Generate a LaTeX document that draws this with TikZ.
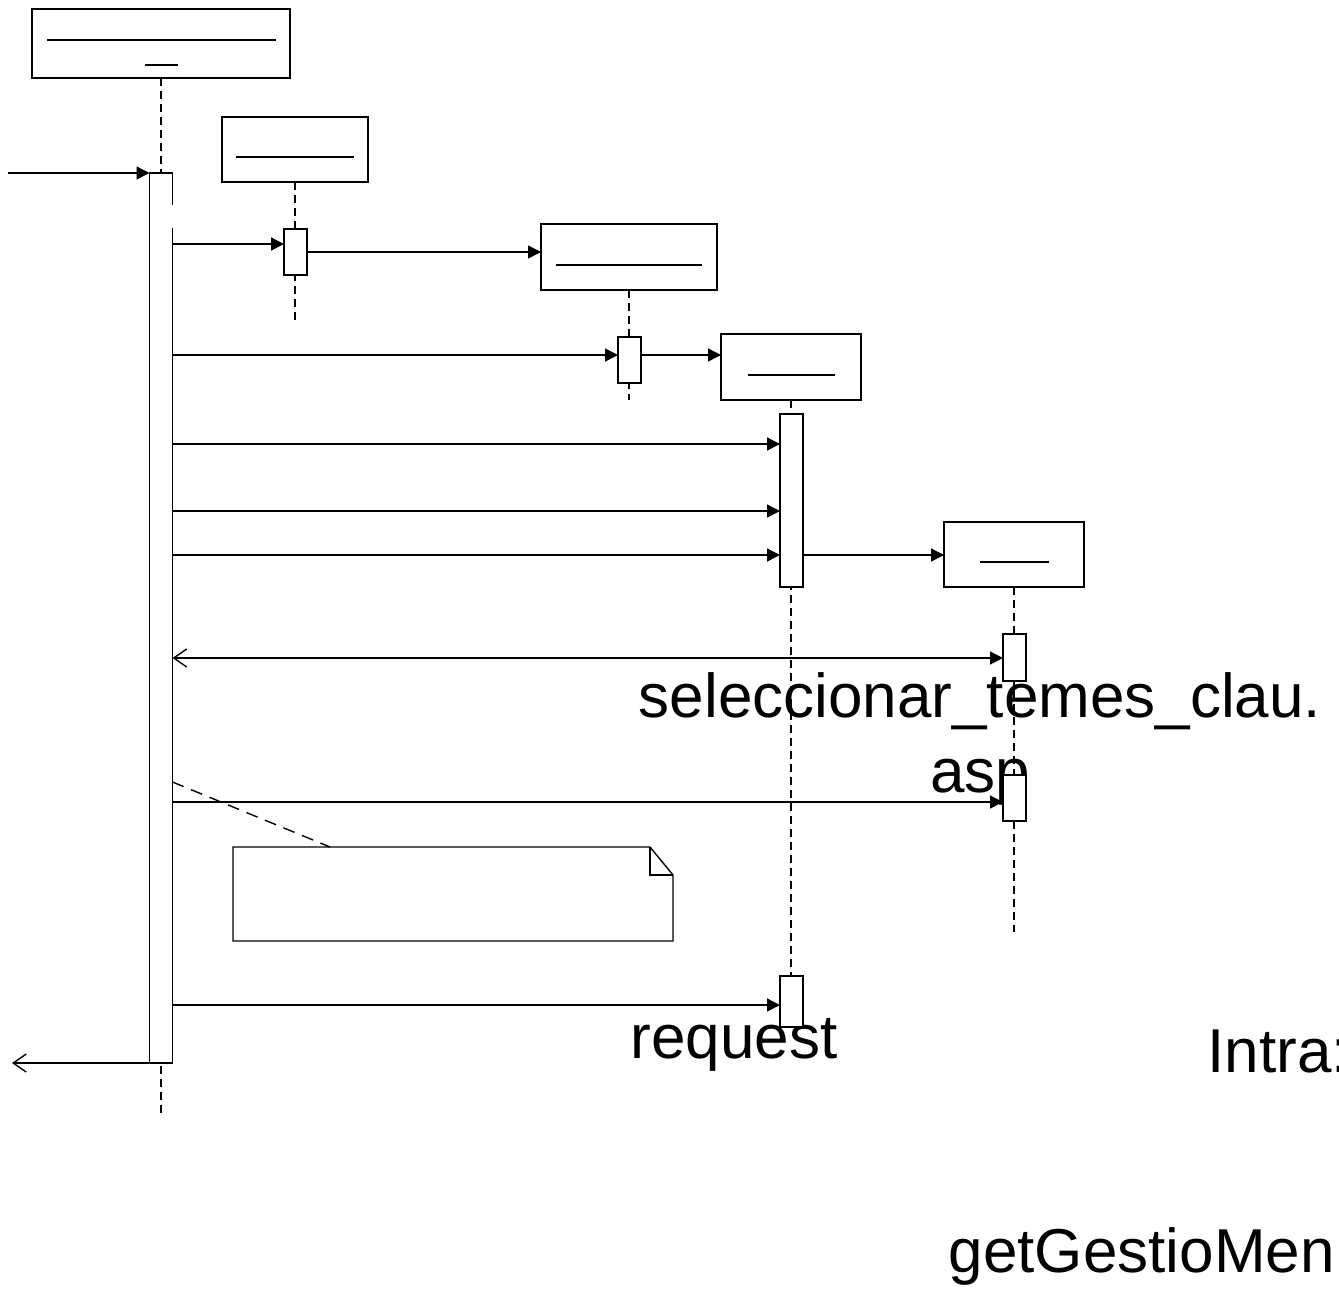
\documentclass[tikz,border=0pt]{standalone}
\usepackage{fontspec}
\setmainfont{Liberation Sans}
\usetikzlibrary{arrows.meta}
\tikzset{
  objbox/.style={draw,fill=white,minimum width=#1,minimum height=66pt,inner sep=0pt,outer sep=0pt},
  actbar/.style={draw,fill=white,minimum width=23pt,minimum height=#1,inner sep=0pt,outer sep=0pt},
  lifeline/.style={dash pattern=on 8pt off 5pt},
  msg/.style={-{Triangle[length=13pt,width=13pt]}},
  ret/.style={-{Straight Barb[length=13pt,width=18pt]}},
  lbl/.style={font=\fontsize{62}{75}\selectfont,inner sep=0pt}
}
\begin{document}
\begin{tikzpicture}[x=1pt,y=-1pt,line width=1.4pt]
  \useasboundingbox (0,0) rectangle (1339,1291);
  \clip (0,0) rectangle (1339,1291);
  % objects
  \node[objbox=258pt,minimum height=69pt] (objA) at (161,43.5) {};
  \draw (47,40) -- (276,40); \draw (145,65) -- (178,65);
  \node[objbox=146pt,minimum height=65pt] (objB) at (295,149.5) {};
  \draw (236,157) -- (354,157);
  \node[objbox=176pt] (objC) at (629,257) {};
  \draw (556,265) -- (702,265);
  \node[objbox=140pt] (objD) at (791,367) {};
  \draw (748,375) -- (835,375);
  \node[objbox=140pt,minimum height=65pt] (objE) at (1014,554.5) {};
  \draw (980,562) -- (1049,562);
  % lifelines
  \coordinate (endA) at (161,1115);
  \coordinate (endB) at (295,322);
  \coordinate (endC) at (629,400);
  \coordinate (endD) at (791,1027);
  \coordinate (endE) at (1014,932);
  \foreach \o/\e in {objA/endA,objB/endB,objC/endC,objD/endD,objE/endE}
    \draw[lifeline] (\o) -- (\e);
  % labels
  \node[lbl,anchor=base,align=center] (lblSel) at (980,792) {seleccionar\_temes\_clau.\\asp};
  \node[lbl,anchor=base] (lblReq) at (734,1058) {request};
  \node[lbl,anchor=base west] (lblIntra) at (1207,1072) {Intra:};
  \node[lbl,anchor=base west] (lblGet) at (948,1272) {getGestioMen};
  % activations
  \node[actbar=890pt] (actA) at (161,618) {};
  \draw[white,line width=2pt] (173,205) -- (173,228);
  \node[actbar=46pt] (actB) at (295.5,252) {};
  \node[actbar=46pt] (actC) at (629.5,360) {};
  \node[actbar=173pt] (actD1) at (791.5,500.5) {};
  \node[actbar=51pt] (actD2) at (791.5,1001.5) {};
  \node[actbar=47pt] (actE1) at (1014.5,657.5) {};
  \node[actbar=46pt] (actE2) at (1014.5,798) {};
  % messages
  \coordinate (inA) at (8,173);
  \coordinate (outA) at (12,1063);
  \draw[msg] (inA) -- (actA.north west);
  \draw[msg] (actA.east |- 0,244) -- (actB.west |- 0,244);
  \draw[msg] (actB.east |- 0,252) -- (objC.west |- 0,252);
  \draw[msg] (actA.east |- 0,355) -- (actC.west |- 0,355);
  \draw[msg] (actC.east |- 0,355) -- (objD.west |- 0,355);
  \foreach \y in {444,511,555}
    \draw[msg] (actA.east |- 0,\y) -- (actD1.west |- 0,\y);
  \draw[msg] (actD1.east |- 0,555) -- (objE.west |- 0,555);
  \draw[{Straight Barb[length=13pt,width=18pt]}-{Triangle[length=13pt,width=13pt]}]
    (actA.east |- 0,658) -- (actE1.west |- 0,658);
  \draw[msg] (actA.east |- 0,802) -- (actE2.west |- 0,802);
  \draw[msg] (actA.east |- 0,1005) -- (actD2.west |- 0,1005);
  \draw[ret] (actA.south west) -- (outA);
  % note
  \node[minimum width=440pt,minimum height=94pt,inner sep=0pt,outer sep=0pt] (note) at (453,894) {};
  \draw (note.south west) -- (note.north west) -- ([xshift=-23pt]note.north east)
    -- ([yshift=-28pt]note.north east) -- (note.south east) -- cycle;
  \draw ([xshift=-23pt]note.north east) -- ([xshift=-23pt,yshift=-28pt]note.north east)
    -- ([yshift=-28pt]note.north east);
  \draw[dash pattern=on 12pt off 8pt] (actA.east |- 0,782) -- (note.north west -| 330,0);
\end{tikzpicture}
\end{document}
